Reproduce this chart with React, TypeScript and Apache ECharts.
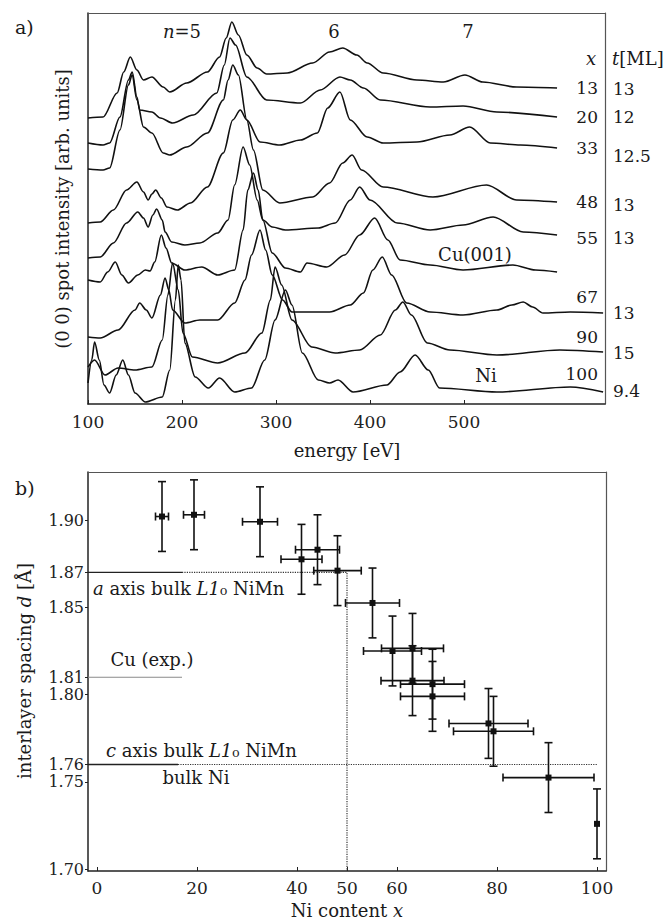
import React, { useEffect, useRef } from "react";
import * as echarts from "echarts";

const FONT = '"DejaVu Serif", "Liberation Serif", serif';

// ---------- panel a: (0 0) spot I(V) spectra, intensity in arb. units ----------
const e13 = [100,116,131,138,145,152,159,168,180,187,205,227,240,247,253,260,269,280,290,312,339,357,371,386,397,414,450,478,501,520,556,599];
const i13 = [286,287,311,332,347,334,324,327,317,312,321,332,347,366,382,369,349,336,330,331,341,352,356,349,341,331,324,322,329,322,317,316];
const e20 = [100,116,123,134,143,147,152,155,168,177,190,212,237,245,251,257,269,290,326,347,368,379,393,411,464,499,535,599];
const i20 = [261,259,261,287,324,332,307,294,292,286,281,289,311,339,366,359,327,304,301,314,327,324,316,304,297,298,292,287];
const e33 = [100,116,123,134,143,147,152,159,168,180,187,205,227,244,249,254,260,269,283,304,326,344,355,368,379,397,414,450,485,506,528,560,599];
const i33 = [235,234,236,274,319,329,304,277,271,251,249,257,271,304,324,339,329,284,262,259,264,271,296,312,284,267,261,262,269,277,261,259,256];
const e48 = [100,113,127,141,152,159,164,168,172,178,184,195,209,227,244,254,262,269,276,286,304,339,357,371,381,391,414,467,524,556,599];
const i48 = [181,182,194,214,222,212,204,210,214,206,197,194,201,217,251,284,294,284,254,214,201,207,221,241,249,234,217,207,219,204,202];
const e55 = [100,113,127,141,153,159,164,169,173,179,182,189,203,219,238,249,256,265,272,280,286,296,310,345,363,379,389,400,429,464,499,531,563,599];
const i55 = [146,147,161,181,192,186,177,189,195,184,172,162,159,161,171,184,219,257,239,204,184,177,174,176,181,204,217,204,181,174,179,187,172,169];
const eCu = [100,113,121,129,136,143,153,161,166,171,178,183,189,203,221,238,256,265,270,276,281,286,296,310,326,333,354,373,389,405,419,432,464,499,552,576,599];
const iCu = [124,122,132,142,129,121,129,134,133,142,169,156,141,134,137,129,134,174,214,231,214,184,151,136,132,141,137,149,169,186,164,144,139,134,139,134,132];
const e67 = [100,113,132,150,155,162,168,177,182,186,190,203,219,238,256,267,274,283,289,296,307,317,357,379,393,403,413,423,439,464,499,535,551,563,573,584,613,648];
const i67 = [67,66,74,94,101,94,86,109,126,114,94,81,84,84,101,124,149,174,154,129,104,92,92,99,111,134,147,129,101,92,89,94,99,102,97,91,92,91];
const e90 = [100,107,118,132,150,168,179,185,190,196,201,211,238,267,285,294,299,306,317,338,363,389,411,427,435,444,461,485,535,602,648];
const i90 = [37,44,29,36,34,37,64,109,141,114,71,47,41,51,71,104,137,119,84,57,51,54,69,94,102,89,61,54,49,54,52];
const eNi = [100,104,107,112,117,123,130,137,143,150,161,179,187,193,196,199,203,214,228,240,256,274,288,299,310,317,328,345,357,366,382,418,432,448,462,474,535,613,648];
const iNi = [21,44,62,44,19,11,29,44,29,11,2,7,34,104,139,124,61,27,16,26,12,16,44,84,114,99,51,24,21,24,12,19,32,49,34,16,12,17,12];

const energyTicks = [100, 200, 300, 400, 500, 600];
const xLabels = ["13", "20", "33", "48", "55", "67", "90", "100"];
const tLabels = ["13", "12", "12.5", "13", "13", "13", "15", "9.4"];

// ---------- panel b: interlayer spacing vs Ni content ----------
const niContent = [13, 19.4, 32.6, 40.9, 44.1, 48.1, 55.1, 59.1, 63.1, 63.1, 67.1, 67.1, 78.3, 79.3, 90.3, 100];
const spacing = [1.902, 1.903, 1.899, 1.8775, 1.883, 1.871, 1.8525, 1.825, 1.8265, 1.808, 1.806, 1.799, 1.7835, 1.779, 1.7525, 1.726];
const niErr = [1.3, 2.1, 3.5, 4.1, 4.4, 4.75, 5.4, 5.8, 6.2, 6.3, 6.4, 6.4, 7.9, 8, 9.1, 0];
const spacingErr = [0.02, 0.02, 0.02, 0.02, 0.02, 0.02, 0.02, 0.02, 0.02, 0.02, 0.02, 0.02, 0.02, 0.02, 0.02, 0.02];
const niTicks = [0, 20, 40, 50, 60, 80, 100];
const spacingTicks = [1.7, 1.75, 1.76, 1.8, 1.81, 1.85, 1.87, 1.9];
const aAxisNiMn = 1.87;
const cuExp = 1.81;
const cAxisNiMn = 1.76;
const xMinB = -1.8;
const xMaxB = 101.8;
const yMinB = 1.699;
const yMaxB = 1.9275;
const refSolidEnd = 17;
const equiatomic = 50;

const zip = (a: number[], b: number[]) => a.map((v, k) => [v, b[k]]);

const txt = (text: string, x: number, y: number, opts: any = {}) => {
  const size = opts.size || 18;
  const fill = opts.fill || "#1a1a1a";
  return {
    type: "text",
    x,
    y,
    rotation: opts.rotation || 0,
    silent: true,
    style: {
      text,
      x: 0,
      y: 0,
      fill,
      font: `${size}px ${FONT}`,
      fontFamily: FONT,
      fontSize: size,
      textAlign: opts.align || "center",
      textVerticalAlign: "middle",
      rich: {
        i: { fontStyle: "italic", fontFamily: FONT, fontSize: size, fill },
      },
    },
  };
};

const frameAxis = (kind: "x" | "y", gridIndex: number, min: number, max: number) => ({
  type: "value",
  gridIndex,
  min,
  max,
  position: kind === "x" ? "top" : "right",
  axisLine: { show: true, onZero: false, lineStyle: { color: "#555", width: 1.2 } },
  axisTick: { show: false },
  axisLabel: { show: false },
  splitLine: { show: false },
});

export default function App() {
  const ref = useRef<HTMLDivElement>(null);
  useEffect(() => {
    if (!ref.current) return;
    const chart = echarts.init(ref.current, undefined, { renderer: "svg" });
    const spectra = [
      [e13, i13], [e20, i20], [e33, i33], [e48, i48], [e55, i55],
      [eCu, iCu], [e67, i67], [e90, i90], [eNi, iNi],
    ];
    const lineSeries = spectra.map(([e, v]) => ({
      type: "line",
      xAxisIndex: 0,
      yAxisIndex: 0,
      data: zip(e as number[], v as number[]),
      showSymbol: false,
      smooth: 0.3,
      smoothMonotone: "x",
      silent: true,
      lineStyle: { color: "#111", width: 1.6 },
    }));

    const refLine = (data: number[][], color: string, type: string, width: number) => ({
      type: "line",
      xAxisIndex: 1,
      yAxisIndex: 1,
      data,
      showSymbol: false,
      silent: true,
      lineStyle: { color, type, width },
      z: 1,
    });

    const xRows = [88, 117, 148, 202, 238, 297, 337, 374];
    const tRows = [89, 117, 156, 205, 238, 313, 353, 391];

    const graphics: any[] = [
      txt("a)", 15, 27, { align: "left", size: 19 }),
      txt("{i|n}=5", 182, 31),
      txt("6", 334, 31),
      txt("7", 468, 31),
      txt("{i|x}", 591, 58),
      txt("{i|t}[ML]", 612, 58, { align: "left" }),
      txt("Cu(001)", 475, 254),
      txt("Ni", 486, 375),
      txt("energy [eV]", 347, 450),
      txt("(0 0) spot intensity [arb. units]", 62, 209, { rotation: Math.PI / 2 }),
      txt("b)", 15, 488, { align: "left", size: 19 }),
      txt("{i|a} axis bulk {i|L1}₀ NiMn", 93, 588, { align: "left" }),
      txt("Cu (exp.)", 152, 659),
      txt("{i|c} axis bulk {i|L1}₀ NiMn", 106, 750, { align: "left" }),
      txt("bulk Ni", 196, 777),
      txt("Ni content {i|x}", 347, 910),
      txt("interlayer spacing {i|d} [Å]", 24, 671, { rotation: Math.PI / 2 }),
    ];
    xLabels.forEach((s, k) => graphics.push(txt(s, 598, xRows[k], { align: "right", size: 17 })));
    tLabels.forEach((s, k) => graphics.push(txt(s, 613, tRows[k], { align: "left", size: 17 })));

    const option: any = {
      animation: false,
      backgroundColor: "#fff",
      textStyle: { fontFamily: FONT },
      grid: [
        { left: 88, top: 13, width: 517, height: 391, containLabel: false },
        { left: 88, top: 472, width: 518, height: 399, containLabel: false },
      ],
      xAxis: [
        {
          type: "value", gridIndex: 0, min: 100, max: 650, interval: 100,
          axisLine: { show: true, onZero: false, lineStyle: { color: "#222", width: 1.5 } },
          axisTick: { show: true, inside: true, length: 4, lineStyle: { color: "#222" }, customValues: energyTicks },
          axisLabel: { color: "#222", fontFamily: FONT, fontSize: 17, margin: 9, showMaxLabel: false, customValues: energyTicks },
          splitLine: { show: false },
        },
        {
          type: "value", gridIndex: 1, min: xMinB, max: xMaxB,
          axisLine: { show: true, onZero: false, lineStyle: { color: "#222", width: 1.5 } },
          axisTick: { show: true, inside: true, length: 4, lineStyle: { color: "#222" }, customValues: niTicks },
          axisLabel: { color: "#222", fontFamily: FONT, fontSize: 17, margin: 8, customValues: niTicks },
          splitLine: { show: false },
        },
        frameAxis("x", 0, 100, 650),
        frameAxis("x", 1, xMinB, xMaxB),
      ],
      yAxis: [
        {
          type: "value", gridIndex: 0, min: 0, max: 391,
          axisLine: { show: true, onZero: false, lineStyle: { color: "#222", width: 1.5 } },
          axisTick: { show: false }, axisLabel: { show: false }, splitLine: { show: false },
        },
        {
          type: "value", gridIndex: 1, min: yMinB, max: yMaxB,
          axisLine: { show: true, onZero: false, lineStyle: { color: "#222", width: 1.5 } },
          axisTick: { show: true, inside: false, length: 3, lineStyle: { color: "#222" }, customValues: spacingTicks },
          axisLabel: {
            color: "#222", fontFamily: FONT, fontSize: 16, lineHeight: 15, margin: 4, customValues: spacingTicks,
            formatter: (v: number) => v.toFixed(2),
          },
          splitLine: { show: false },
        },
        frameAxis("y", 0, 0, 391),
        frameAxis("y", 1, yMinB, yMaxB),
      ],
      series: [
        ...lineSeries,
        refLine([[xMinB, aAxisNiMn], [refSolidEnd, aAxisNiMn]], "#222", "solid", 1.3),
        refLine([[refSolidEnd, aAxisNiMn], [equiatomic, aAxisNiMn], [equiatomic, yMinB]], "#333", "dotted", 1.2),
        refLine([[xMinB, cuExp], [refSolidEnd, cuExp]], "#8a8a8a", "solid", 1.1),
        refLine([[xMinB, cAxisNiMn], [16.2, cAxisNiMn]], "#222", "solid", 1.3),
        refLine([[16.2, cAxisNiMn], [100, cAxisNiMn]], "#333", "dotted", 1.2),
        {
          type: "custom",
          xAxisIndex: 1,
          yAxisIndex: 1,
          silent: true,
          z: 3,
          data: niContent.map((x, k) => [x, spacing[k], niErr[k], spacingErr[k]]),
          renderItem: (params: any, api: any) => {
            const x = api.value(0), y = api.value(1), xe = api.value(2), ye = api.value(3);
            const c = api.coord([x, y]);
            const top = api.coord([x, y + ye]);
            const bot = api.coord([x, y - ye]);
            const st = { stroke: "#111", lineWidth: 1.6 };
            const cap = 4;
            const ch: any[] = [
              { type: "line", shape: { x1: c[0], y1: top[1], x2: c[0], y2: bot[1] }, style: st },
              { type: "line", shape: { x1: c[0] - cap, y1: top[1], x2: c[0] + cap, y2: top[1] }, style: st },
              { type: "line", shape: { x1: c[0] - cap, y1: bot[1], x2: c[0] + cap, y2: bot[1] }, style: st },
            ];
            if (xe > 0) {
              const l = api.coord([x - xe, y]);
              const r = api.coord([x + xe, y]);
              ch.push({ type: "line", shape: { x1: l[0], y1: c[1], x2: r[0], y2: c[1] }, style: st });
              ch.push({ type: "line", shape: { x1: l[0], y1: c[1] - cap, x2: l[0], y2: c[1] + cap }, style: st });
              ch.push({ type: "line", shape: { x1: r[0], y1: c[1] - cap, x2: r[0], y2: c[1] + cap }, style: st });
            }
            ch.push({ type: "rect", shape: { x: c[0] - 3, y: c[1] - 3, width: 6, height: 6 }, style: { fill: "#111" } });
            return { type: "group", children: ch };
          },
        },
      ],
      graphic: graphics,
    };
    chart.setOption(option);
    return () => chart.dispose();
  }, []);
  return (
    <div
      ref={ref}
      style={{ position: "fixed", left: 0, top: 0, width: 668, height: 923, background: "#fff" }}
    />
  );
}
